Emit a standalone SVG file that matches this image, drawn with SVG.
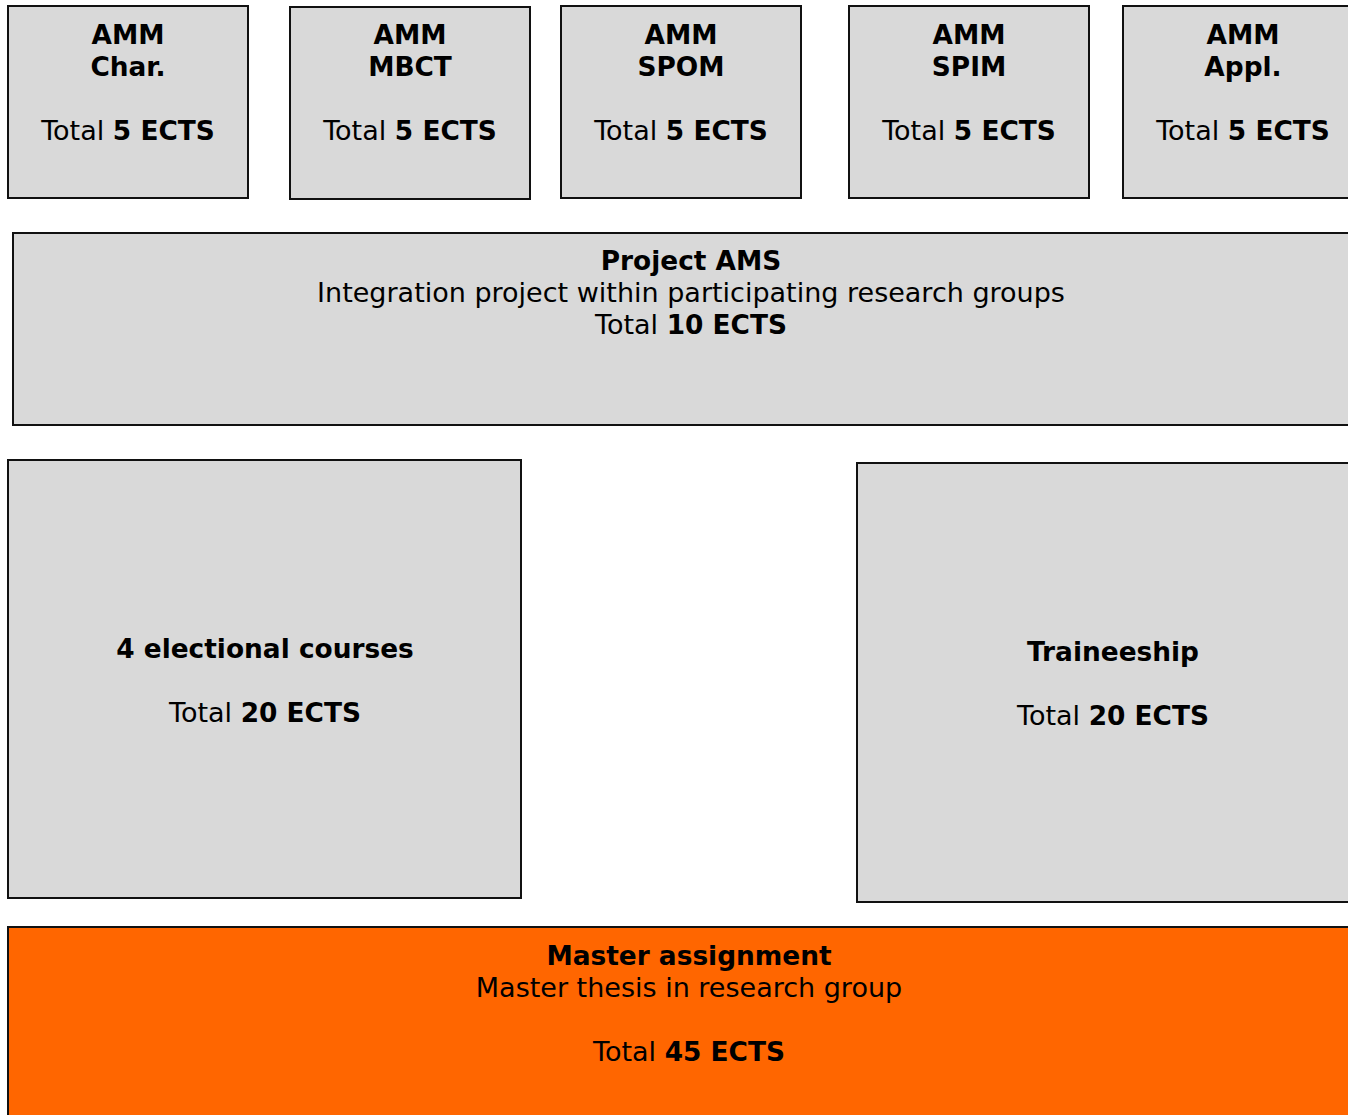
<svg xmlns="http://www.w3.org/2000/svg" width="1348" height="1115" viewBox="0 0 1348 1115">
<style>
.box{fill:#d9d9d9;stroke:#111;stroke-width:2}
.or{fill:#ff6600;stroke:#111;stroke-width:2}
text{font-family:"DejaVu Sans",Verdana,sans-serif;font-size:27px;fill:#000;text-anchor:middle}
.b{font-weight:bold;font-size:26.4px}
</style>
<rect width="1348" height="1115" fill="#fff"/>
<g id="char"><rect class="box" x="8" y="6" width="240" height="192"/>
<text x="128" y="44" class="b">AMM</text><text x="128" y="76" class="b">Char.</text>
<text x="128" y="140">Total <tspan class="b">5 ECTS</tspan></text></g>
<g id="mbct"><rect class="box" x="290" y="7" width="240" height="192"/>
<text x="410" y="44" class="b">AMM</text><text x="410" y="76" class="b">MBCT</text>
<text x="410" y="140">Total <tspan class="b">5 ECTS</tspan></text></g>
<g id="spom"><rect class="box" x="561" y="6" width="240" height="192"/>
<text x="681" y="44" class="b">AMM</text><text x="681" y="76" class="b">SPOM</text>
<text x="681" y="140">Total <tspan class="b">5 ECTS</tspan></text></g>
<g id="spim"><rect class="box" x="849" y="6" width="240" height="192"/>
<text x="969" y="44" class="b">AMM</text><text x="969" y="76" class="b">SPIM</text>
<text x="969" y="140">Total <tspan class="b">5 ECTS</tspan></text></g>
<g id="appl"><rect class="box" x="1123" y="6" width="240" height="192"/>
<text x="1243" y="44" class="b">AMM</text><text x="1243" y="76" class="b">Appl.</text>
<text x="1243" y="140">Total <tspan class="b">5 ECTS</tspan></text></g>
<g id="project"><rect class="box" x="13" y="233" width="1350" height="192"/>
<text x="691" y="270" class="b">Project AMS</text>
<text x="691" y="302">Integration project within participating research groups</text>
<text x="691" y="334">Total <tspan class="b">10 ECTS</tspan></text></g>
<g id="electional"><rect class="box" x="8" y="460" width="513" height="438"/>
<text x="265" y="658" class="b">4 electional courses</text>
<text x="265" y="722">Total <tspan class="b">20 ECTS</tspan></text></g>
<g id="traineeship"><rect class="box" x="857" y="463" width="506" height="439"/>
<text x="1113" y="661" class="b">Traineeship</text>
<text x="1113" y="725">Total <tspan class="b">20 ECTS</tspan></text></g>
<g id="master"><rect class="or" x="8" y="927" width="1355" height="200"/>
<text x="689" y="965" class="b">Master assignment</text>
<text x="689" y="997">Master thesis in research group</text>
<text x="689" y="1061">Total <tspan class="b">45 ECTS</tspan></text></g>
<g id="connectors"/>
</svg>
